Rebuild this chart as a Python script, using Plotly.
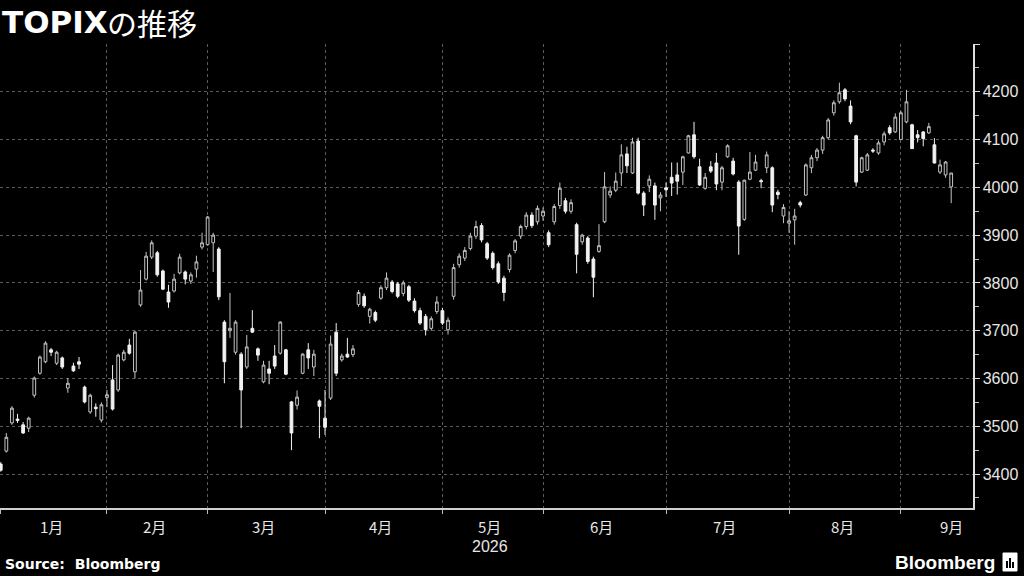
import pandas as pd
import plotly.graph_objects as go

# ---- data -------------------------------------------------------------
jp_holidays = ["2026-01-12", "2026-02-11", "2026-02-23", "2026-03-20", "2026-04-29",
               "2026-05-04", "2026-05-05", "2026-05-06", "2026-07-20", "2026-08-11",
               "2026-09-21", "2026-09-22", "2026-09-23"]
first_day = "2026-01-05"
last_day = "2026-09-14"
calendar_end = "2026-09-30"

month_labels = ["1月", "2月", "3月", "4月", "5月", "6月", "7月", "8月", "9月"]
year_label = "2026"
y_tick_values = [3400, 3500, 3600, 3700, 3800, 3900, 4000, 4100, 4200, 4300]
y_tick_text = ["3400", "3500", "3600", "3700", "3800", "3900", "4000", "4100", "4200", ""]

opens = [3421, 3448, 3507, 3515, 3503, 3496, 3565, 3611, 3635, 3660,
         3632, 3643, 3580, 3626, 3635, 3582, 3530, 3540, 3513, 3560,
         3597, 3576, 3639, 3670, 3614, 3754, 3808, 3854, 3863, 3825,
         3781, 3783, 3821, 3823, 3804, 3829, 3875, 3880, 3884, 3871,
         3718, 3700, 3655, 3651, 3624, 3705, 3662, 3593, 3620, 3647,
         3653, 3660, 3551, 3544, 3611, 3660, 3624, 3553, 3517, 3559,
         3697, 3639, 3651, 3650, 3755, 3772, 3730, 3738, 3768, 3790,
         3802, 3798, 3778, 3792, 3762, 3742, 3730, 3705, 3740, 3742,
         3702, 3772, 3838, 3852, 3872, 3898, 3920, 3882, 3862, 3840,
         3810, 3828, 3868, 3898, 3918, 3942, 3928, 3940, 3905, 3928,
         3962, 3972, 3950, 3922, 3886, 3894, 3850, 3866, 3928, 3984,
         3994, 4030, 4070, 4030, 4097, 3988, 4003, 4003, 3978, 3999,
         4021, 4026, 4032, 4072, 4110, 4043, 3998, 4043, 4051, 4011,
         4064, 4055, 4011, 3933, 4017, 4036, 4014, 4041, 4041, 3990,
         3940, 3925, 3932, 3968, 3984, 4041, 4062, 4078, 4104, 4156,
         4179, 4204, 4170, 4108, 4032, 4036, 4078, 4072, 4095, 4125,
         4116, 4100, 4137, 4131, 4110, 4116, 4114, 4089, 4032, 4026,
         4001]
highs = [3425, 3486, 3542, 3526, 3509, 3520, 3604, 3648, 3678, 3664,
         3658, 3646, 3601, 3633, 3645, 3585, 3568, 3548, 3550, 3576,
         3628, 3652, 3660, 3683, 3700, 3827, 3865, 3889, 3867, 3828,
         3796, 3819, 3861, 3826, 3822, 3857, 3905, 3940, 3905, 3875,
         3722, 3779, 3722, 3655, 3691, 3743, 3665, 3637, 3637, 3670,
         3720, 3662, 3553, 3575, 3653, 3674, 3660, 3556, 3576, 3690,
         3716, 3652, 3685, 3670, 3785, 3778, 3748, 3742, 3795, 3822,
         3806, 3802, 3805, 3796, 3768, 3748, 3735, 3730, 3772, 3748,
         3728, 3840, 3862, 3875, 3905, 3930, 3925, 3886, 3866, 3845,
         3815, 3862, 3892, 3922, 3948, 3948, 3962, 3958, 3910, 3965,
         4010, 3978, 3975, 3926, 3903, 3898, 3855, 3923, 4032, 4002,
         4031, 4090, 4085, 4104, 4104, 3992, 4025, 4010, 3990, 4010,
         4052, 4052, 4066, 4110, 4137, 4060, 4030, 4055, 4072, 4045,
         4090, 4062, 4015, 4016, 4074, 4068, 4018, 4075, 4044, 3995,
         3965, 3950, 3955, 3972, 4050, 4068, 4082, 4108, 4145, 4182,
         4219, 4208, 4182, 4110, 4064, 4072, 4082, 4098, 4117, 4130,
         4155, 4160, 4204, 4133, 4120, 4118, 4135, 4103, 4058, 4055,
         4030]
lows = [3405, 3445, 3503, 3507, 3484, 3488, 3560, 3608, 3632, 3647,
        3628, 3620, 3570, 3614, 3620, 3548, 3526, 3520, 3508, 3540,
        3533, 3572, 3636, 3650, 3600, 3750, 3805, 3850, 3813, 3785,
        3748, 3780, 3818, 3797, 3798, 3811, 3870, 3878, 3823, 3764,
        3590, 3685, 3650, 3496, 3620, 3695, 3637, 3590, 3588, 3620,
        3650, 3607, 3450, 3535, 3609, 3620, 3605, 3475, 3482, 3555,
        3605, 3635, 3643, 3645, 3750, 3748, 3715, 3718, 3765, 3785,
        3778, 3768, 3772, 3760, 3738, 3712, 3690, 3700, 3735, 3712,
        3692, 3765, 3832, 3846, 3868, 3892, 3885, 3848, 3828, 3798,
        3762, 3822, 3862, 3892, 3912, 3915, 3922, 3930, 3875, 3922,
        3955, 3945, 3945, 3820, 3880, 3840, 3770, 3863, 3925, 3978,
        3990, 4003, 4030, 4028, 3985, 3940, 3990, 3932, 3950, 3980,
        3982, 3985, 4005, 4071, 4060, 4003, 3995, 4030, 3994, 3994,
        4062, 4025, 3859, 3930, 4015, 4034, 3998, 4030, 3948, 3975,
        3925, 3905, 3880, 3958, 3982, 4030, 4055, 4070, 4100, 4150,
        4175, 4180, 4132, 4002, 4030, 4034, 4072, 4068, 4088, 4110,
        4114, 4100, 4134, 4081, 4094, 4086, 4112, 4050, 4028, 4020,
        3967]
closes = [3408, 3477, 3538, 3512, 3486, 3517, 3601, 3645, 3674, 3655,
          3655, 3624, 3590, 3616, 3630, 3551, 3565, 3537, 3545, 3566,
          3536, 3649, 3655, 3653, 3697, 3785, 3856, 3884, 3817, 3787,
          3760, 3808, 3854, 3808, 3817, 3844, 3884, 3938, 3900, 3771,
          3635, 3705, 3718, 3576, 3666, 3697, 3649, 3628, 3611, 3626,
          3718, 3609, 3486, 3561, 3651, 3643, 3651, 3542, 3498, 3672,
          3611, 3647, 3645, 3662, 3780, 3752, 3745, 3722, 3790, 3810,
          3782, 3772, 3800, 3764, 3742, 3716, 3702, 3725, 3760, 3716,
          3722, 3832, 3856, 3868, 3898, 3918, 3890, 3852, 3832, 3802,
          3780, 3858, 3888, 3918, 3942, 3920, 3956, 3950, 3880, 3960,
          3998, 3950, 3968, 3860, 3900, 3845, 3812, 3878, 4001, 3992,
          4013, 4068, 4045, 4095, 3988, 3963, 4017, 3963, 3984, 3995,
          4009, 4013, 4064, 4108, 4064, 4005, 4021, 4034, 4007, 4041,
          4087, 4028, 3919, 4015, 4032, 4053, 4012, 4068, 3963, 3985,
          3958, 3930, 3940, 3963, 4047, 4062, 4078, 4104, 4141, 4177,
          4198, 4185, 4137, 4011, 4062, 4068, 4076, 4093, 4112, 4114,
          4147, 4156, 4179, 4081, 4104, 4102, 4127, 4051, 4047, 4053,
          4030]

# ---- trading-day calendar ---------------------------------------------
all_days = pd.bdate_range(first_day, calendar_end)
all_days = all_days[~all_days.isin(pd.to_datetime(jp_holidays))]
trade_dates = all_days[all_days <= pd.Timestamp(last_day)][:len(opens)]
x_idx = list(range(len(trade_dates)))

month_of = all_days.month
month_starts = [int((month_of == m).argmax()) for m in range(1, 10)]
month_ends = month_starts[1:] + [len(all_days)]
label_pos = [(s + e - 1) / 2 for s, e in zip(month_starts, month_ends)]

# ---- figure -----------------------------------------------------------
fig = go.Figure()
fig.add_trace(go.Candlestick(
    x=x_idx, open=opens, high=highs, low=lows, close=closes,
    increasing=dict(line=dict(color="#c4c4c4", width=1), fillcolor="#000000"),
    decreasing=dict(line=dict(color="#f2f2f2", width=1), fillcolor="#f2f2f2"),
    whiskerwidth=0, showlegend=False, hoverinfo="skip",
))

fig.update_layout(
    width=1024, height=576,
    paper_bgcolor="#000000", plot_bgcolor="#000000",
    margin=dict(l=0, r=51, t=44, b=68),
    showlegend=False,
    xaxis=dict(
        type="linear", range=[-0.134, 173.9], rangeslider=dict(visible=False),
        tickmode="array", tickvals=month_starts, showticklabels=False,
        ticks="outside", ticklen=4, tickcolor="#bbbbbb",
        showgrid=True, gridcolor="#5a5a5a", griddash="dot", gridwidth=1,
        showline=True, linecolor="#cfcfcf", linewidth=1.5,
        zeroline=False, fixedrange=True,
    ),
    yaxis=dict(
        side="right", range=[3329, 4300],
        tickmode="array", tickvals=y_tick_values, ticktext=y_tick_text,
        ticks="outside", ticklen=5, tickcolor="#dddddd",
        minor=dict(dtick=50, tick0=3350, ticks="outside", ticklen=4,
                   tickcolor="#bbbbbb", showgrid=False),
        showgrid=True, gridcolor="#5a5a5a", griddash="dot", gridwidth=1,
        showline=True, linecolor="#dddddd", linewidth=1.5,
        zeroline=False, fixedrange=True,
        tickfont=dict(family="Liberation Sans, Arial", size=16, color="#e6e6e6"),
    ),
)

for lab, pos in zip(month_labels, label_pos):
    fig.add_annotation(x=pos, y=-0.012, xref="x", yref="paper", text=lab,
                       showarrow=False, xanchor="center", yanchor="top",
                       font=dict(family="Noto Sans CJK JP", size=15, color="#e6e6e6"))

fig.add_annotation(x=(month_starts[4] + month_ends[4] - 1) / 2, y=-0.06, xref="x", yref="paper",
                   text=year_label, showarrow=False, xanchor="center", yanchor="top",
                   font=dict(family="Liberation Sans, Arial", size=16, color="#e6e6e6"))

# title
title_y = (508 - 22) / 464
fig.add_annotation(x=0, y=title_y, xref="paper", yref="paper", text="<b>TOPIX</b>",
                   showarrow=False, xanchor="left", yanchor="middle",
                   font=dict(family="DejaVu Sans", size=31, color="#ffffff"))
fig.add_annotation(x=105 / 973, y=title_y, xref="paper", yref="paper", text="の推移",
                   showarrow=False, xanchor="left", yanchor="middle",
                   font=dict(family="Noto Sans CJK JP", size=30, color="#ffffff"))

# footer
fig.add_annotation(x=3 / 973, y=-0.121, xref="paper", yref="paper", text="<b>Source:  Bloomberg</b>",
                   showarrow=False, xanchor="left", yanchor="middle",
                   font=dict(family="DejaVu Sans", size=14, color="#ffffff"))
fig.add_annotation(x=997 / 973, y=-0.117, xref="paper", yref="paper", text="<b>Bloomberg</b>",
                   showarrow=False, xanchor="right", yanchor="middle",
                   font=dict(family="Liberation Sans, Arial", size=19, color="#ffffff"))
# logo mark
fig.add_shape(type="rect", xref="paper", yref="paper",
              x0=1003 / 973, x1=1017 / 973, y0=(508 - 571) / 464, y1=(508 - 553) / 464,
              fillcolor="#ffffff", line=dict(color="#ffffff", width=1))
for bx, top in [(1007, 561), (1010, 558), (1013, 562)]:
    fig.add_shape(type="line", xref="paper", yref="paper",
                  x0=bx / 973, x1=bx / 973, y0=(508 - 568) / 464, y1=(508 - top) / 464,
                  line=dict(color="#000000", width=2))

fig.write_html("out.html", config={"displayModeBar": False, "staticPlot": True},
               post_script="document.body.style.margin='0';document.body.style.overflow='hidden';")
